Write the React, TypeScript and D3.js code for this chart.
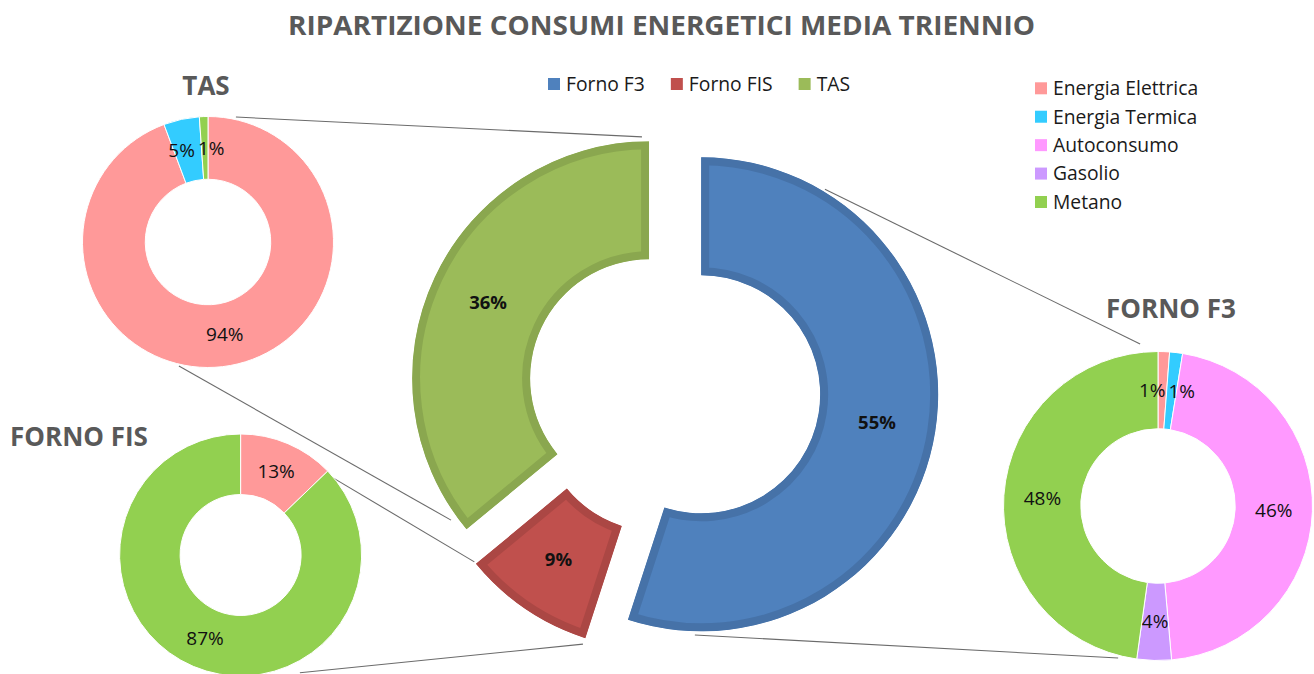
import { useEffect, useRef } from 'react'
import * as d3 from 'd3'

const TITLE = 'RIPARTIZIONE CONSUMI ENERGETICI MEDIA TRIENNIO'

// main doughnut: share of total consumption per plant
const PLANTS = ['Forno F3', 'Forno FIS', 'TAS']
const PLANT_SHARE = [55, 9, 36]
const PLANT_FILL = ['#4f81bd', '#c0504d', '#9bbb59']
const PLANT_EDGE = ['#4672a8', '#ab4744', '#8aa74f']

// energy sources, same order for every plant
const SOURCES = ['Energia Elettrica', 'Energia Termica', 'Autoconsumo', 'Gasolio', 'Metano']
const SOURCE_FILL = ['#ff9999', '#33ccff', '#ff99ff', '#cc99ff', '#92d050']

const TAS_SHARE = [94.3, 4.6, 0, 0, 1.1]
const FIS_SHARE = [12.8, 0, 0, 0, 87.2]
const F3_SHARE = [1.2, 1.35, 46.05, 3.6, 47.8]

const W = 1314
const H = 674
const FONT = "'Open Sans', sans-serif"

const MAIN = { cx: 674, cy: 390, outer: 237, inner: 119, explode: 27.5, edge: 8 }

const SUBCHARTS = [
  { plant: 'TAS', title: 'TAS', values: TAS_SHARE, cx: 208, cy: 242, outer: 125.5, tx: 206, ty: 95, anchor: 'middle' },
  { plant: 'Forno FIS', title: 'FORNO FIS', values: FIS_SHARE, cx: 240.6, cy: 555, outer: 121, tx: 10, ty: 446, anchor: 'start' },
  { plant: 'Forno F3', title: 'FORNO F3', values: F3_SHARE, cx: 1158, cy: 506, outer: 154.5, tx: 1171, ty: 318, anchor: 'middle' },
]

// leader lines: angle (deg, clockwise from top) and radius factor on each end
const CONNECTORS = [
  { plant: 'TAS', subAngle: 12.6, subK: 1.02, mainAngle: 358.3, mainK: 1.019 },
  { plant: 'TAS', subAngle: 193.2, subK: 1.015, mainAngle: 234.4, mainK: 1.028 },
  { plant: 'Forno FIS', subAngle: 47.5, subK: 0.98, mainAngle: 231.0, mainK: 1.0 },
  { plant: 'Forno FIS', subAngle: 153.3, subK: 1.09, mainAngle: 198.1, mainK: 1.027 },
  { plant: 'Forno F3', subAngle: 194.7, subK: 1.017, mainAngle: 181.5, mainK: 1.016 },
  { plant: 'Forno F3', subAngle: 353.7, subK: 1.055, mainAngle: 31.1, mainK: 1.011 },
]

const pct = (v: number) => `${Math.round(v)}%`

export default function App() {
  const svgRef = useRef<SVGSVGElement>(null)

  useEffect(() => {
    if (!svgRef.current) return
    const svg = d3.select(svgRef.current)
    svg.selectAll('*').remove()

    const polar = (cx: number, cy: number, r: number, deg: number) => {
      const a = (deg * Math.PI) / 180
      return [cx + r * Math.sin(a), cy - r * Math.cos(a)]
    }

    const defs = svg.append('defs')
    const gLines = svg.append('g')
    const gMain = svg.append('g')
    const gSub = svg.append('g')

    // main exploded doughnut
    const mainPie = d3.pie<number>().sort(null)(PLANT_SHARE)
    const mainArc = d3.arc<d3.PieArcDatum<number>>().innerRadius(MAIN.inner).outerRadius(MAIN.outer)
    const mainCenters = new Map<string, number[]>()

    mainPie.forEach((p, i) => {
      const mid = (p.startAngle + p.endAngle) / 2
      const ox = MAIN.cx + MAIN.explode * Math.sin(mid)
      const oy = MAIN.cy - MAIN.explode * Math.cos(mid)
      mainCenters.set(PLANTS[i], [ox, oy])
      const d = mainArc(p) as string
      defs.append('clipPath').attr('id', `main-clip-${i}`).append('path').attr('d', d)
      const g = gMain.append('g').attr('transform', `translate(${ox},${oy})`)
      g.append('path')
        .attr('d', d)
        .attr('fill', PLANT_FILL[i])
        .attr('stroke', PLANT_EDGE[i])
        .attr('stroke-width', MAIN.edge * 2)
        .attr('stroke-linejoin', 'miter')
        .attr('clip-path', `url(#main-clip-${i})`)
      const [lx, ly] = mainArc.centroid(p)
      g.append('text')
        .attr('x', lx).attr('y', ly)
        .attr('dy', '0.35em')
        .attr('text-anchor', 'middle')
        .style('font-family', FONT)
        .style('font-size', '18.5px')
        .style('font-weight', '700')
        .style('fill', '#111')
        .text(pct(PLANT_SHARE[i]))
    })

    // small doughnuts per plant
    const subCenters = new Map<string, { cx: number; cy: number; outer: number }>()
    SUBCHARTS.forEach((sc) => {
      subCenters.set(sc.plant, sc)
      const inner = sc.outer * 0.5
      const arc = d3.arc<d3.PieArcDatum<number>>().innerRadius(inner).outerRadius(sc.outer)
      const pie = d3.pie<number>().sort(null)(sc.values)
      const g = gSub.append('g').attr('transform', `translate(${sc.cx},${sc.cy})`)

      pie.forEach((p, i) => {
        if (p.value <= 0) return
        g.append('path')
          .attr('d', arc(p) as string)
          .attr('fill', SOURCE_FILL[i])
          .attr('stroke', '#fff')
          .attr('stroke-width', 1)
      })

      // labels at the ring centroid, pushed apart sideways where they collide
      const labels = pie
        .filter((p) => p.value > 0)
        .map((p) => {
          const [x, y] = arc.centroid(p)
          const node = g.append('text')
            .attr('x', x).attr('y', y)
            .attr('dy', '0.35em')
            .attr('text-anchor', 'middle')
            .style('font-family', FONT)
            .style('font-size', '19px')
            .style('fill', '#111')
            .text(pct(p.value))
          const w = (node.node() as SVGTextElement).getComputedTextLength()
          return { x, y, w, node }
        })
      for (let a = 0; a < labels.length; a++) {
        for (let b = a + 1; b < labels.length; b++) {
          const A = labels[a], B = labels[b]
          const need = (A.w + B.w) / 2 + 3
          const dx = B.x - A.x
          if (Math.abs(dx) < need && Math.abs(B.y - A.y) < 20) {
            const shift = (need - Math.abs(dx)) / 2
            const s = dx >= 0 ? 1 : -1
            A.x -= shift * s
            B.x += shift * s
          }
        }
      }
      labels.forEach((l) => l.node.attr('x', l.x))

      svg.append('text')
        .attr('x', sc.tx).attr('y', sc.ty)
        .attr('text-anchor', sc.anchor)
        .style('font-family', FONT)
        .style('font-size', '26px')
        .style('font-weight', '700')
        .style('fill', '#595959')
        .text(sc.title)
    })

    // leader lines between the main slices and their breakdowns
    CONNECTORS.forEach((c) => {
      const sc = subCenters.get(c.plant)!
      const mc = mainCenters.get(c.plant)!
      const [x1, y1] = polar(sc.cx, sc.cy, sc.outer * c.subK, c.subAngle)
      const [x2, y2] = polar(mc[0], mc[1], MAIN.outer * c.mainK, c.mainAngle)
      gLines.append('line')
        .attr('x1', x1).attr('y1', y1)
        .attr('x2', x2).attr('y2', y2)
        .attr('stroke', '#6b6b6b')
        .attr('stroke-width', 1.1)
    })

    // title
    svg.append('text')
      .attr('x', 288).attr('y', 35)
      .attr('textLength', 747)
      .attr('lengthAdjust', 'spacingAndGlyphs')
      .style('font-family', FONT)
      .style('font-size', '27px')
      .style('font-weight', '700')
      .style('fill', '#595959')
      .text(TITLE)

    // plant legend (top centre, horizontal)
    let lx = 548
    PLANTS.forEach((name, i) => {
      svg.append('rect')
        .attr('x', lx).attr('y', 78).attr('width', 12).attr('height', 12)
        .attr('fill', PLANT_FILL[i])
      const t = svg.append('text')
        .attr('x', lx + 18).attr('y', 91)
        .style('font-family', FONT)
        .style('font-size', '19.3px')
        .style('fill', '#1a1a1a')
        .text(name)
      const tw = (t.node() as SVGTextElement).getComputedTextLength()
      lx += 18 + tw + 26
    })

    // source legend (top right, vertical)
    const rowY = d3.scalePoint<string>().domain(SOURCES).range([88.3, 202]).padding(0)
    SOURCES.forEach((name, i) => {
      const y = rowY(name)!
      svg.append('rect')
        .attr('x', 1035).attr('y', y - 6).attr('width', 12).attr('height', 12)
        .attr('fill', SOURCE_FILL[i])
      svg.append('text')
        .attr('x', 1053).attr('y', y + 6.8)
        .style('font-family', FONT)
        .style('font-size', '19.3px')
        .style('fill', '#1a1a1a')
        .text(name)
    })
  }, [])

  return (
    <div style={{ position: 'absolute', left: 0, top: 0, width: W, height: H, background: '#fff' }}>
      <svg ref={svgRef} width={W} height={H} style={{ display: 'block' }} />
    </div>
  )
}
